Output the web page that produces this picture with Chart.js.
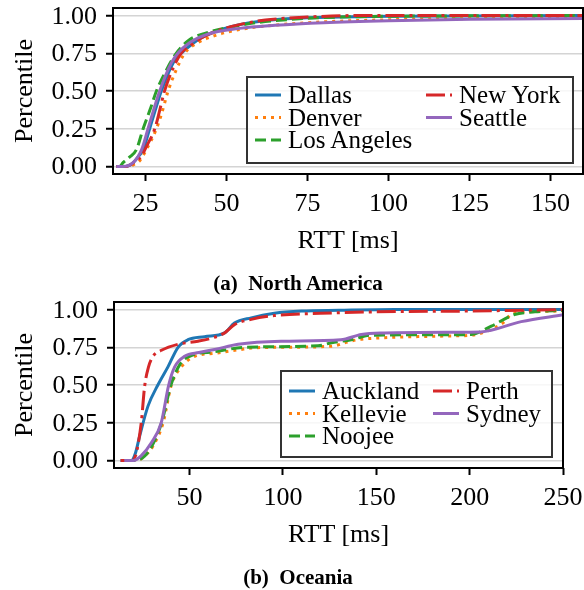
<!DOCTYPE html>
<html>
<head>
<meta charset="utf-8">
<script src="https://cdn.jsdelivr.net/npm/chart.js@4.4.0/dist/chart.umd.min.js"></script>
<style>
  body { margin: 0; background: #fff; }
  .panel { position: absolute; left: 0; width: 584px; height: 260px; }
  .overlay { position: absolute; left: 0; top: 0; width: 584px; height: 260px; pointer-events: none; }
  .lbl { position: absolute; font-family: "Liberation Serif", serif; font-size: 26px; line-height: 30px;
    white-space: nowrap; color: #000; }
  .center { transform: translate(-50%, -50%); }
  .right { transform: translate(-100%, -50%); }
  .rot { transform: translate(-50%, -50%) rotate(-90deg); }
  .legend { font-size: 25px; transform: translateY(-50%); }
  .caption { position: absolute; left: 0; width: 596px; text-align: center;
    font-family: "Liberation Serif", serif; font-weight: bold; font-size: 21px; line-height: 24px; }
</style>
</head>
<body>
<div class="panel" style="top:0"><canvas id="chartNA"></canvas><div class="overlay"></div></div>
<div class="caption" style="top:271px">(a)&nbsp; North America</div>
<div class="panel" style="top:294px"><canvas id="chartOC"></canvas><div class="overlay"></div></div>
<div class="caption" style="top:565px">(b)&nbsp; Oceania</div>
<script>
// (a) North America  -- RTT in ms, percentile
const dallasRtt = [16, 19, 21, 23, 24.3, 26.3, 28, 29.9, 32.5, 34.5, 36, 39.3, 42, 46, 52, 60, 70, 85, 100, 160];
const dallasPct = [0, 0, 0.02, 0.07, 0.11, 0.25, 0.37, 0.5, 0.64, 0.72, 0.75, 0.81, 0.85, 0.89, 0.93, 0.96, 0.98, 0.99, 0.995, 1.0];
const denverRtt = [16, 20, 22, 23.3, 25, 28.4, 30, 32, 34.5, 37.1, 41.2, 45.8, 54, 64, 80, 100, 125, 160];
const denverPct = [0, 0, 0.02, 0.04, 0.1, 0.25, 0.35, 0.5, 0.64, 0.75, 0.82, 0.863, 0.907, 0.935, 0.958, 0.972, 0.98, 0.985];
const laRtt = [16, 17, 18.1, 20, 22.2, 24.3, 26.5, 28.4, 31.5, 34.5, 38.6, 43.8, 53, 60, 70, 85, 100, 160];
const laPct = [0, 0, 0.025, 0.06, 0.11, 0.25, 0.38, 0.5, 0.64, 0.75, 0.84, 0.885, 0.93, 0.955, 0.975, 0.99, 0.995, 1.0];
const nyRtt = [16, 19, 21, 23.8, 25.5, 27.9, 29.5, 30.9, 33.5, 36, 39.3, 43, 48, 55, 62, 75, 90, 160];
const nyPct = [0, 0, 0.02, 0.07, 0.14, 0.25, 0.38, 0.5, 0.65, 0.75, 0.81, 0.86, 0.905, 0.945, 0.97, 0.99, 1.0, 1.0];
const seattleRtt = [16, 18, 21.2, 23.8, 25.8, 29.4, 33, 35, 38.6, 43.8, 54, 65, 80, 100, 125, 160];
const seattlePct = [0, 0, 0.025, 0.11, 0.25, 0.5, 0.686, 0.75, 0.82, 0.874, 0.915, 0.935, 0.952, 0.965, 0.975, 0.98];

// (b) Oceania
const aucklandRtt = [13, 18.8, 21, 23.2, 27.7, 33, 38.4, 43.8, 49.1, 58, 68.7, 74, 83, 95.4, 110, 130, 160, 250];
const aucklandPct = [0, 0, 0.05, 0.16, 0.36, 0.5, 0.62, 0.75, 0.8, 0.82, 0.845, 0.91, 0.945, 0.975, 0.99, 0.995, 1.0, 1.0];
const kellevieRtt = [15, 21.4, 26, 30.4, 35.8, 40.2, 45.6, 52.7, 63.4, 77.2, 83, 100, 126, 134.7, 140, 149, 190, 201, 210, 218.7, 222, 230, 250];
const kelleviePct = [0, 0, 0.03, 0.095, 0.25, 0.5, 0.62, 0.69, 0.71, 0.735, 0.745, 0.75, 0.757, 0.785, 0.8, 0.81, 0.825, 0.83, 0.86, 0.92, 0.967, 0.985, 0.99];
const noojeeRtt = [15, 21.4, 26, 30, 35, 40, 45, 52, 63, 80, 118.8, 126, 136.6, 147, 190, 201, 211.6, 224, 235, 250];
const noojeePct = [0, 0, 0.03, 0.1, 0.25, 0.5, 0.64, 0.7, 0.72, 0.75, 0.76, 0.78, 0.8, 0.83, 0.833, 0.835, 0.89, 0.967, 0.985, 0.995];
const perthRtt = [13, 18.8, 21, 24.1, 25.9, 28, 30.4, 34.9, 43.8, 54.5, 61.6, 68.7, 74, 83, 95.4, 120, 150, 200, 250];
const perthPct = [0, 0, 0.03, 0.25, 0.49, 0.62, 0.69, 0.73, 0.77, 0.79, 0.81, 0.845, 0.9, 0.935, 0.96, 0.975, 0.985, 0.99, 1.0];
const sydneyRtt = [15, 20, 24, 29.5, 34.8, 38.8, 42, 47.3, 55, 63.4, 76, 99, 131, 142, 154.5, 190, 206, 227.6, 250];
const sydneyPct = [0, 0, 0.03, 0.117, 0.25, 0.5, 0.62, 0.69, 0.715, 0.735, 0.77, 0.79, 0.8, 0.835, 0.845, 0.85, 0.852, 0.92, 0.965];

const yTicks = [0, 0.25, 0.5, 0.75, 1.0];
const xTitle = 'RTT [ms]';
const yTitle = 'Percentile';

const BLUE = '#1f77b4', ORANGE = '#ff7f0e', GREEN = '#2ca02c', RED = '#d62728', PURPLE = '#9467bd';
const SOLID = [], DOTTED = [3, 5], DASHED = [11, 5], DASHDOT = [19, 5, 3, 5];

function series(label, xs, ys, color, dash, order) {
  return {
    label: label,
    data: xs.map((x, i) => ({ x: x, y: ys[i] })),
    borderColor: color,
    borderDash: dash,
    borderWidth: 3,
    pointRadius: 0,
    cubicInterpolationMode: 'monotone',
    fill: false,
    order: order
  };
}

// axes frame, legend box and the text labels (placed from the chart's own scales)
const decor = {
  id: 'decor',
  afterDraw(chart, args, opts) {
    const { ctx, chartArea } = chart;
    ctx.save();
    ctx.strokeStyle = '#000';
    ctx.lineWidth = 2;
    ctx.strokeRect(chartArea.left, chartArea.top, chartArea.width, chartArea.height);

    const x0 = chartArea.right - opts.marginRight - opts.width;
    const y0 = chartArea.bottom - opts.marginBottom - opts.height;
    ctx.fillStyle = 'rgba(255,255,255,0.8)';
    ctx.fillRect(x0, y0, opts.width, opts.height);
    ctx.strokeStyle = '#333';
    ctx.strokeRect(x0, y0, opts.width, opts.height);
    opts.columns.forEach((col, c) => {
      col.forEach((di, r) => {
        const ds = chart.data.datasets[di];
        const y = y0 + opts.rowTop + r * opts.rowGap;
        const hx = x0 + opts.colX[c];
        ctx.beginPath();
        ctx.setLineDash(ds.borderDash);
        ctx.strokeStyle = ds.borderColor;
        ctx.lineWidth = ds.borderWidth;
        ctx.moveTo(hx, y);
        ctx.lineTo(hx + 26, y);
        ctx.stroke();
        ctx.setLineDash([]);
      });
    });
    ctx.restore();

    const layer = chart.canvas.parentNode.querySelector('.overlay');
    layer.textContent = '';
    function put(text, x, y, cls) {
      const el = document.createElement('div');
      el.className = 'lbl ' + cls;
      el.textContent = text;
      el.style.left = x + 'px';
      el.style.top = y + 'px';
      layer.appendChild(el);
    }
    const xs = chart.scales.x;
    const ys = chart.scales.y;
    xs.ticks.forEach(t => put(String(t.value), xs.getPixelForValue(t.value), chartArea.bottom + 28.5, 'center'));
    ys.ticks.forEach(t => put(t.value.toFixed(2), chartArea.left - 16, ys.getPixelForValue(t.value), 'right'));
    put(xTitle, (chartArea.left + chartArea.right) / 2, chart.height - 20.5, 'center');
    put(yTitle, 23.5, (chartArea.top + chartArea.bottom) / 2, 'rot');
    opts.columns.forEach((col, c) => {
      col.forEach((di, r) => {
        put(chart.data.datasets[di].label, x0 + opts.colX[c] + 33, y0 + opts.rowTop + r * opts.rowGap, 'legend');
      });
    });
  }
};

function makeOptions(xMin, xMax, xStep, yWidth, padRight, legendOpts) {
  return {
    responsive: true,
    maintainAspectRatio: false,
    animation: false,
    layout: { padding: { top: 8, right: padRight, bottom: 0, left: 0 } },
    plugins: {
      legend: { display: false },
      tooltip: { enabled: false },
      decor: legendOpts
    },
    scales: {
      x: {
        type: 'linear',
        min: xMin,
        max: xMax,
        ticks: { display: false, stepSize: xStep, includeBounds: false, autoSkip: false },
        grid: { drawOnChartArea: false, tickColor: '#000', tickLength: 7, tickWidth: 2 },
        border: { display: false },
        afterFit(s) { s.height = 86; s.paddingLeft = 0; s.paddingRight = 0; }
      },
      y: {
        min: -0.05,
        max: 1.05,
        afterBuildTicks(s) { s.ticks = yTicks.map(v => ({ value: v })); },
        ticks: { display: false },
        grid: { color: '#d4d4d4', lineWidth: 1.5, tickColor: '#000', tickLength: 7, tickWidth: 2 },
        border: { display: false },
        afterFit(s) { s.width = yWidth; s.paddingTop = 0; s.paddingBottom = 0; }
      }
    }
  };
}

new Chart(document.getElementById('chartNA'), {
  type: 'line',
  data: {
    datasets: [
      series('Dallas', dallasRtt, dallasPct, BLUE, SOLID, 5),
      series('Denver', denverRtt, denverPct, ORANGE, DOTTED, 4),
      series('Los Angeles', laRtt, laPct, GREEN, DASHED, 3),
      series('New York', nyRtt, nyPct, RED, DASHDOT, 2),
      series('Seattle', seattleRtt, seattlePct, PURPLE, SOLID, 1)
    ]
  },
  options: makeOptions(15, 160, 25, 113, 1, {
    marginRight: 10, marginBottom: 11, width: 326, height: 86,
    rowTop: 18, rowGap: 22.5, colX: [8, 179], columns: [[0, 1, 2], [3, 4]]
  }),
  plugins: [decor]
});

new Chart(document.getElementById('chartOC'), {
  type: 'line',
  data: {
    datasets: [
      series('Auckland', aucklandRtt, aucklandPct, BLUE, SOLID, 5),
      series('Kellevie', kellevieRtt, kelleviePct, ORANGE, DOTTED, 4),
      series('Noojee', noojeeRtt, noojeePct, GREEN, DASHED, 3),
      series('Perth', perthRtt, perthPct, RED, DASHDOT, 2),
      series('Sydney', sydneyRtt, sydneyPct, PURPLE, SOLID, 1)
    ]
  },
  options: makeOptions(9.5, 250, 50, 114, 21, {
    marginRight: 11, marginBottom: 11, width: 271, height: 86,
    rowTop: 20, rowGap: 22.5, colX: [8, 152], columns: [[0, 1, 2], [3, 4]]
  }),
  plugins: [decor]
});
</script>
</body>
</html>
